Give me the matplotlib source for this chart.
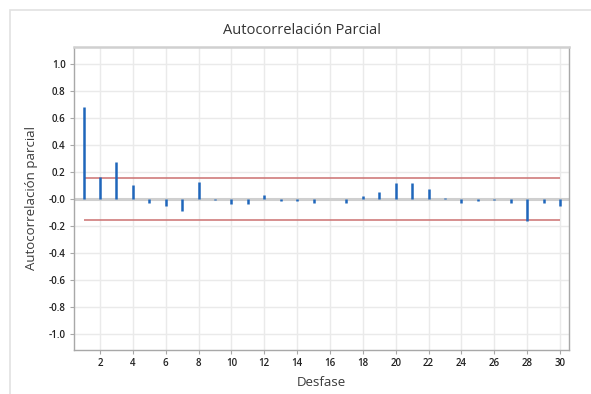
import numpy as np
import matplotlib.pyplot as plt
from matplotlib.patches import Rectangle

# ── datos ───────────────────────────────────────────
lags = list(range(1, 31))
pacf = [0.68, 0.163, 0.275, 0.10, -0.03, -0.05, -0.09, 0.125, -0.005, -0.04,
        -0.04, 0.03, -0.015, -0.015, -0.03, 0.0, -0.03, 0.02, 0.05, 0.12,
        0.115, 0.077, 0.005, -0.027, -0.015, -0.01, -0.03, -0.163, -0.03, -0.052]
limit = 0.153

x_ticks = list(range(2, 31, 2))
y_ticks = np.round(np.arange(-1.0, 1.01, 0.2), 1)

plt.rcParams['font.family'] = ['Open Sans', 'DejaVu Sans']

fig = plt.figure(figsize=(5.91, 3.94), dpi=100)
ax = fig.add_axes([74 / 591, 1 - 350 / 394, (569 - 74) / 591, (350 - 47) / 394])

# marco exterior
fig.patches.append(Rectangle((10 / 591, -0.05), 1.0, 1 - 10 / 394 + 0.05,
                             transform=fig.transFigure, fill=False,
                             edgecolor='#e2e2e2', lw=1.2))

ax.set_xlim(0.42, 30.55)
ax.set_ylim(-1.12, 1.126)

ax.set_xticks(x_ticks)
ax.set_yticks(y_ticks)
ax.set_yticklabels([f"{t:.1f}" for t in y_ticks])
ax.grid(True, color='#eaeaea', lw=1.0)
ax.set_axisbelow(True)

ax.axhline(0, color='#cfcfcf', lw=2.2, zorder=1)
ax.vlines(lags, 0, pacf, color='#1f66bb', lw=1.8, zorder=3)
ax.hlines([limit, -limit], lags[0], lags[-1], color='#cf7b7b', lw=1.2, zorder=2)

for s in ax.spines.values():
    s.set_color('#a8a8a8')
    s.set_linewidth(1.0)
ax.spines['top'].set_color('#d0d0d0')
ax.spines['top'].set_linewidth(1.8)

ax.tick_params(axis='both', labelsize=7, labelcolor='#222222', length=3,
               width=0.8, pad=3, color='#a8a8a8')
for lab in ax.get_xticklabels() + ax.get_yticklabels():
    lab.set_fontweight('semibold')

# título centrado en el marco, no en los ejes
fig.text(302 / 591, 1 - 31 / 394, 'Autocorrelación Parcial', fontsize=10.5,
         color='#333333', fontweight='medium', ha='center', va='center')
ax.set_xlabel('Desfase', fontsize=9.5, color='#3a3a3a', labelpad=5,
              fontweight='medium')
ax.set_ylabel('Autocorrelación parcial', fontsize=9.5, color='#3a3a3a',
              labelpad=8, fontweight='medium')

fig.savefig('out.png', dpi=100)
